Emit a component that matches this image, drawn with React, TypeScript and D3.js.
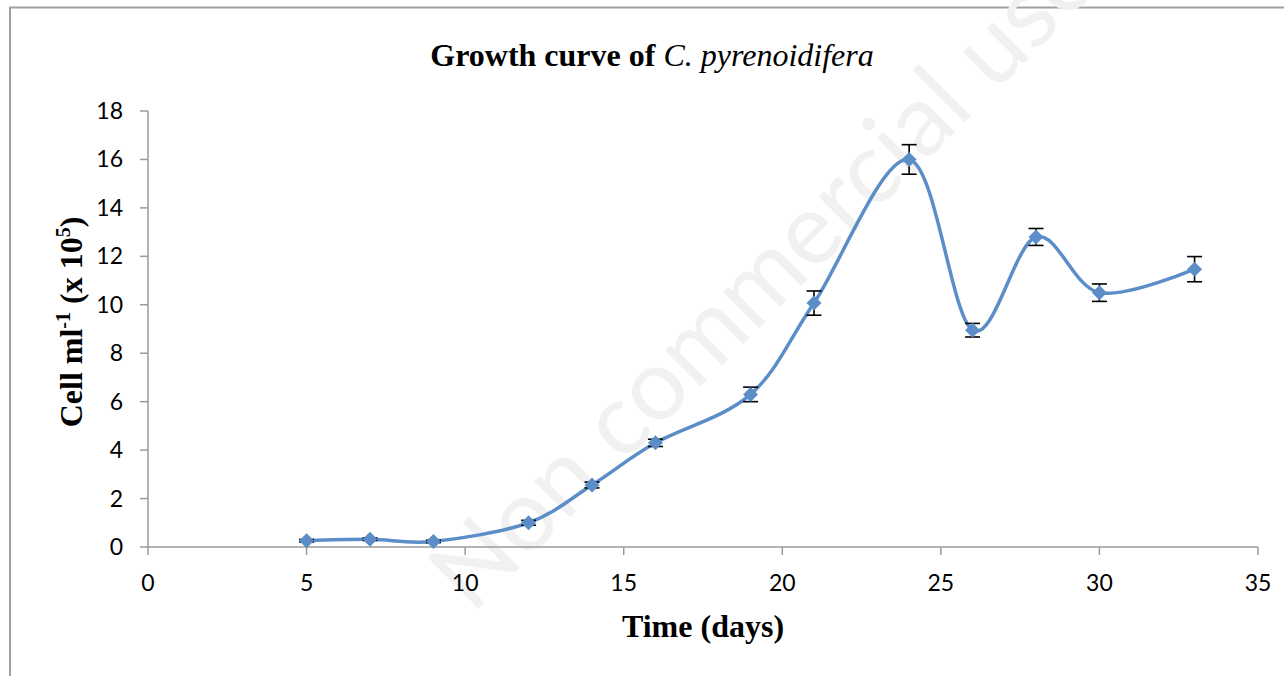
import React from 'react';
import * as d3 from 'd3';

// growth curve data
const days = [5, 7, 9, 12, 14, 16, 19, 21, 24, 26, 28, 30, 33];
const cells = [0.26, 0.32, 0.23, 1.0, 2.56, 4.3, 6.3, 10.07, 16.0, 8.95, 12.8, 10.5, 11.47];
const errors = [0.05, 0.05, 0.05, 0.1, 0.12, 0.15, 0.3, 0.5, 0.61, 0.28, 0.35, 0.36, 0.52];

const xTicks = [0, 5, 10, 15, 20, 25, 30, 35];
const yTicks = [0, 2, 4, 6, 8, 10, 12, 14, 16, 18];

const W = 1284;
const H = 676;
const BLUE = '#5b8ec8';
const AXIS = '#9a9a9a';
const SANS = 'Lato, "Open Sans", sans-serif';
const SERIF = '"Liberation Serif", "Times New Roman", serif';

const App = () => {
  const x = d3.scaleLinear().domain([0, 35]).range([148, 1258]);
  const y = d3.scaleLinear().domain([0, 18]).range([547, 111]);

  const points = days.map((d, i) => ({ day: d, value: cells[i], err: errors[i] }));

  const line = d3
    .line<{ day: number; value: number }>()
    .x(d => x(d.day))
    .y(d => y(d.value))
    .curve(d3.curveCardinal.tension(0));

  const diamond = (cx: number, cy: number, r: number) =>
    `M${cx},${cy - r}L${cx + r},${cy}L${cx},${cy + r}L${cx - r},${cy}Z`;

  const [x0, x1] = x.range();
  const [y0, y1] = y.range();

  return (
    <svg
      width={W}
      height={H}
      style={{ position: 'absolute', left: 0, top: 0, background: '#fff' }}
    >
      {/* outer chart frame */}
      <rect x={10} y={7.5} width={W + 20} height={H + 20} fill="#fff" stroke="#a0a0a0" strokeWidth={2} />

      {/* watermark */}
      <text
        transform="translate(472,615) rotate(-45)"
        fontFamily={SANS}
        fontSize={100}
        fill="#f1f1f1"
      >
        Non commercial use only
      </text>

      {/* title */}
      <text x={652} y={66} textAnchor="middle" fontFamily={SERIF} fontSize={32}>
        <tspan fontWeight="bold">Growth curve of </tspan>
        <tspan fontStyle="italic">C. pyrenoidifera</tspan>
      </text>

      {/* y axis */}
      <line x1={x0} x2={x0} y1={y1} y2={y0} stroke={AXIS} strokeWidth={1.5} />
      {yTicks.map(t => (
        <g key={`y${t}`}>
          <line x1={x0 - 8} x2={x0} y1={y(t)} y2={y(t)} stroke={AXIS} strokeWidth={1.5} />
          <text
            x={123}
            y={y(t)}
            dy="0.35em"
            textAnchor="end"
            fontFamily={SANS}
            fontSize={23}
            fill="#000"
          >
            {t}
          </text>
        </g>
      ))}

      {/* x axis */}
      <line x1={x0} x2={x1} y1={y0} y2={y0} stroke={AXIS} strokeWidth={1.5} />
      {xTicks.map(t => (
        <g key={`x${t}`}>
          <line x1={x(t)} x2={x(t)} y1={y0} y2={y0 + 8} stroke={AXIS} strokeWidth={1.5} />
          <text x={x(t)} y={591} textAnchor="middle" fontFamily={SANS} fontSize={23} fill="#000">
            {t}
          </text>
        </g>
      ))}

      {/* axis titles */}
      <text x={703} y={637} textAnchor="middle" fontFamily={SERIF} fontSize={32} fontWeight="bold">
        Time (days)
      </text>
      <text
        transform="translate(82,322) rotate(-90)"
        textAnchor="middle"
        fontFamily={SERIF}
        fontSize={32}
        fontWeight="bold"
      >
        Cell ml
        <tspan fontSize={20} dy={-12}>-1</tspan>
        <tspan dy={12}> (x 10</tspan>
        <tspan fontSize={20} dy={-12}>5</tspan>
        <tspan dy={12}>)</tspan>
      </text>

      {/* smoothed series line */}
      <path d={line(points) || ''} fill="none" stroke={BLUE} strokeWidth={3.5} />

      {/* error bars */}
      {points.map(p => (
        <g key={`e${p.day}`} stroke="#000" strokeWidth={1.6}>
          <line x1={x(p.day)} x2={x(p.day)} y1={y(p.value + p.err)} y2={y(p.value - p.err)} />
          <line x1={x(p.day) - 7.5} x2={x(p.day) + 7.5} y1={y(p.value + p.err)} y2={y(p.value + p.err)} />
          <line x1={x(p.day) - 7.5} x2={x(p.day) + 7.5} y1={y(p.value - p.err)} y2={y(p.value - p.err)} />
        </g>
      ))}

      {/* diamond markers */}
      {points.map(p => (
        <path key={`m${p.day}`} d={diamond(x(p.day), y(p.value), 7.5)} fill={BLUE} />
      ))}
    </svg>
  );
};

export default App;
